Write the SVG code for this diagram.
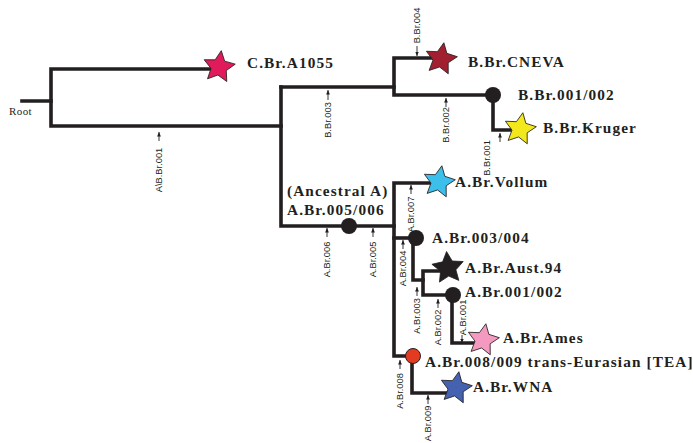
<svg xmlns="http://www.w3.org/2000/svg" width="693" height="443" viewBox="0 0 693 443">
<style>
.br{fill:none;stroke:#231f20;stroke-width:3.6;stroke-linejoin:miter;stroke-linecap:square}
.ar{fill:none;stroke:#231f20;stroke-width:0.9;marker-end:url(#ah)}
.nm{font-family:"Liberation Serif","Times New Roman",serif;font-weight:bold;font-size:15.3px;letter-spacing:1.1px;fill:#231f20}
.sl{font-family:"Liberation Sans",Arial,sans-serif;font-size:9.3px;fill:#231f20;text-anchor:middle}
.rt{font-family:"Liberation Serif","Times New Roman",serif;font-size:11px;letter-spacing:0.4px;fill:#231f20}
.st{stroke:#231f20;stroke-width:0.8;stroke-linejoin:miter}
.dot{fill:#231f20}
</style>
<defs>
<marker id="ah" viewBox="0 0 4 4" refX="4" refY="2" markerWidth="4.5" markerHeight="4.5" markerUnits="userSpaceOnUse" orient="auto"><path d="M0,0.3 L4,2 L0,3.7 Z" fill="#231f20"/></marker>
<path id="star" d="M0,-16.5 L4.8,-6.6 L15.7,-5.1 L7.7,2.5 L9.7,13.3 L0,8.1 L-9.7,13.3 L-7.7,2.5 L-15.7,-5.1 L-4.8,-6.6 Z"/>
</defs>
<g id="connectors">
<path class="br" d="M22,101 H51"/>
<path class="br" d="M210,69 H51 V126 H281"/>
<path class="br" d="M281,87 V226 H394"/>
<path class="br" d="M281,87 H394"/>
<path class="br" d="M432,58 H394 V95 H493 V130 H510"/>
<path class="br" d="M430,183 H394 V356 H413"/>
<path class="br" d="M394,238 H416"/>
<path class="br" d="M413,238 V280 H423"/>
<path class="br" d="M440,271 H423 V295 H453"/>
<path class="br" d="M452,295 V343 H475"/>
<path class="br" d="M412,356 V393 H447"/>
<path class="ar" d="M159,141 V132"/>
<path class="ar" d="M328,100 V90"/>
<path class="ar" d="M417,46 V56"/>
<path class="ar" d="M446,107 V98"/>
<path class="ar" d="M500,142 V133"/>
<path class="ar" d="M327,237 V228"/>
<path class="ar" d="M373,237 V228"/>
<path class="ar" d="M411,194 V185"/>
<path class="ar" d="M403,249 V240"/>
<path class="ar" d="M417,296 V287"/>
<path class="ar" d="M438,308 V299"/>
<path class="ar" d="M462,335 V343"/>
<path class="ar" d="M400,369 V360"/>
<path class="ar" d="M428,404 V395"/>
<text class="sl" transform="translate(162.3,170) rotate(-90)">A\B.Br.001</text>
<text class="sl" transform="translate(331.3,120) rotate(-90)">B.Br.003</text>
<text class="sl" transform="translate(420.3,25.5) rotate(-90)">B.Br.004</text>
<text class="sl" transform="translate(449.3,125) rotate(-90)">B.Br.002</text>
<text class="sl" transform="translate(490.3,158) rotate(-90)">B.Br.001</text>
<text class="sl" transform="translate(330.3,259.5) rotate(-90)">A.Br.006</text>
<text class="sl" transform="translate(376.3,259.5) rotate(-90)">A.Br.005</text>
<text class="sl" transform="translate(414.3,214.5) rotate(-90)">A.Br.007</text>
<text class="sl" transform="translate(406.3,268.5) rotate(-90)">A.Br.004</text>
<text class="sl" transform="translate(420.3,316) rotate(-90)">A.Br.003</text>
<text class="sl" transform="translate(441.3,327.5) rotate(-90)">A.Br.002</text>
<text class="sl" transform="translate(466.3,317.5) rotate(-90)">A.Br.001</text>
<text class="sl" transform="translate(403.3,391) rotate(-90)">A.Br.008</text>
<text class="sl" transform="translate(431.3,423.5) rotate(-90)">A.Br.009</text>
</g>
<g id="root"><text class="rt" x="9" y="115">Root</text></g>
<g id="C.Br.A1055"><use href="#star" class="st" fill="#e11b5b" transform="translate(219,67) rotate(8)"/><text class="nm" x="247" y="68">C.Br.A1055</text></g>
<g id="B.Br.CNEVA"><use href="#star" class="st" fill="#a21f30" transform="translate(441,59) rotate(10)"/><text class="nm" x="468" y="67">B.Br.CNEVA</text></g>
<g id="B.Br.001-002"><circle class="dot" cx="493" cy="95" r="8"/><text class="nm" x="518" y="100">B.Br.001/002</text></g>
<g id="B.Br.Kruger"><use href="#star" class="st" fill="#f2e81c" transform="translate(520,129) rotate(10)"/><text class="nm" x="543" y="133">B.Br.Kruger</text></g>
<g id="A.Br.005-006"><circle class="dot" cx="349" cy="226" r="8"/><text class="nm" x="287" y="196">(Ancestral A)</text><text class="nm" x="287" y="215">A.Br.005/006</text></g>
<g id="A.Br.Vollum"><use href="#star" class="st" fill="#3cbfea" transform="translate(439,182) rotate(10)"/><text class="nm" x="455" y="187">A.Br.Vollum</text></g>
<g id="A.Br.003-004"><circle class="dot" cx="416" cy="238" r="8"/><text class="nm" x="432" y="243">A.Br.003/004</text></g>
<g id="A.Br.Aust.94"><use href="#star" fill="#231f20" class="st" transform="translate(448,268) rotate(-5)"/><text class="nm" x="465" y="273">A.Br.Aust.94</text></g>
<g id="A.Br.001-002"><circle class="dot" cx="453" cy="295" r="8"/><text class="nm" x="465" y="297">A.Br.001/002</text></g>
<g id="A.Br.Ames"><use href="#star" class="st" fill="#f49ac1" transform="translate(483,340) rotate(10)"/><text class="nm" x="503" y="343">A.Br.Ames</text></g>
<g id="A.Br.008-009"><circle cx="413" cy="356" r="7.5" fill="#e23b22" stroke="#231f20" stroke-width="1"/><text class="nm" x="425" y="367">A.Br.008/009 trans-Eurasian [TEA]</text></g>
<g id="A.Br.WNA"><use href="#star" class="st" fill="#4462b0" transform="translate(456,388) rotate(10)"/><text class="nm" x="473" y="392">A.Br.WNA</text></g>
</svg>
